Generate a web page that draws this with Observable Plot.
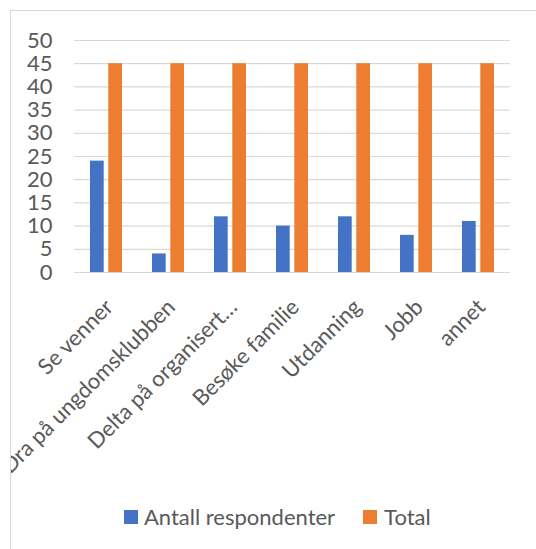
<!DOCTYPE html>
<html>
<head>
<meta charset="utf-8">
<script src="https://cdn.jsdelivr.net/npm/d3@7"></script>
<script src="https://cdn.jsdelivr.net/npm/@observablehq/plot@0.6"></script>
<style>
  html, body { margin: 0; padding: 0; background: #fff; }
  body { width: 536px; height: 549px; position: relative; overflow: hidden; font-family: Lato, "Open Sans", sans-serif; }
  #border { position: absolute; left: 10px; top: 10px; width: 700px; height: 700px; border-left: 1px solid #d9d9d9; border-top: 1px solid #d9d9d9; box-sizing: border-box; }
  #clip { position: absolute; left: 11px; top: 11px; width: 525px; height: 538px; overflow: hidden; }
  #inner { position: absolute; left: -11px; top: -11px; width: 536px; height: 549px; }
  #legend { position: absolute; left: 124px; top: 504px; display: flex; align-items: center; font-size: 22px; line-height: 26px; color: #595959; height: 26px; }
  .sw { width: 14px; height: 14px; display: inline-block; }
</style>
</head>
<body>
<div id="border"></div>
<div id="clip"><div id="inner"><div id="chart"></div>
<div id="legend"></div></div></div>
<script>
const categories = ["Se venner", "Dra på ungdomsklubben", "Delta på organisert…", "Besøke familie", "Utdanning", "Jobb", "annet"];
const antallRespondenter = [24, 4, 12, 10, 12, 8, 11];
const totalValues = [45, 45, 45, 45, 45, 45, 45];
const seriesNames = ["Antall respondenter", "Total"];
const seriesColors = ["#4472C4", "#ED7D31"];
const yTicks = [0, 5, 10, 15, 20, 25, 30, 35, 40, 45, 50];

const antallRows = categories.map((c, i) => ({category: c, series: seriesNames[0], value: antallRespondenter[i]}));
const totalRows = categories.map((c, i) => ({category: c, series: seriesNames[1], value: totalValues[i]}));

const textColor = "#595959";
const chart = Plot.plot({
  width: 536,
  height: 495,
  marginLeft: 74,
  marginRight: 26,
  marginTop: 40,
  marginBottom: 223,
  style: {fontFamily: "Lato, 'Open Sans', sans-serif", background: "transparent"},
  x: {type: "band", domain: categories, padding: 0, axis: null},
  y: {domain: [0, 50], ticks: yTicks, axis: null},
  color: {domain: seriesNames, range: seriesColors},
  marks: [
    Plot.gridY(yTicks, {stroke: "#d9d9d9", strokeOpacity: 1, strokeWidth: 1.2}),
    Plot.axisY(yTicks, {tickSize: 0, tickPadding: 22, fontSize: 22, fill: textColor, label: null}),
    Plot.barY(antallRows, {x: "category", y: "value", fill: "series", insetLeft: 15, insetRight: 33.3}),
    Plot.barY(totalRows, {x: "category", y: "value", fill: "series", insetLeft: 33.3, insetRight: 15}),
    Plot.text(categories, {x: d => d, frameAnchor: "bottom", rotate: -45, textAnchor: "end", lineAnchor: "middle", dx: 3, dy: 31, fontSize: 22, fill: textColor})
  ]
});
document.getElementById("chart").appendChild(chart);

const legend = document.getElementById("legend");
seriesNames.forEach((name, i) => {
  const sw = document.createElement("span");
  sw.className = "sw";
  sw.style.background = seriesColors[i];
  sw.style.marginRight = i === 0 ? "6px" : "7px";
  legend.appendChild(sw);
  const t = document.createElement("span");
  t.textContent = name;
  if (i === 0) t.style.marginRight = "28px";
  legend.appendChild(t);
});
</script>
</body>
</html>
